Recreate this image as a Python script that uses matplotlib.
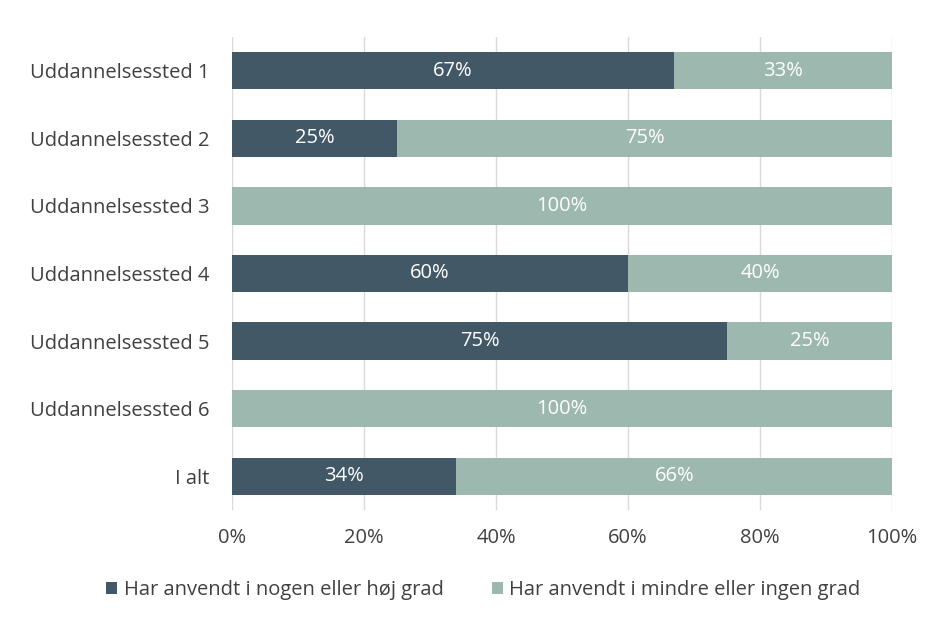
import matplotlib
matplotlib.use("Agg")
import matplotlib.pyplot as plt

categories = ["Uddannelsessted 1", "Uddannelsessted 2", "Uddannelsessted 3",
              "Uddannelsessted 4", "Uddannelsessted 5", "Uddannelsessted 6", "I alt"]
high_use = [67, 25, 0, 60, 75, 0, 34]
low_use = [33, 75, 100, 40, 25, 100, 66]
series_names = ["Har anvendt i nogen eller høj grad", "Har anvendt i mindre eller ingen grad"]
x_ticks = [0, 20, 40, 60, 80, 100]

dark = "#435866"
light = "#9db8ae"
text_col = "#404040"

plt.rcParams["font.family"] = ["Open Sans", "DejaVu Sans"]
fs = 14.5

fig = plt.figure(figsize=(9.42, 6.24), dpi=100)
ax = fig.add_axes([0.2463, 0.1827, 0.7006, 0.758])

y = list(range(len(categories)))
h = 0.55
b1 = ax.barh(y, high_use, height=h, color=dark, label=series_names[0], zorder=3)
b2 = ax.barh(y, low_use, left=high_use, height=h, color=light, label=series_names[1], zorder=3)

for bars, vals, lefts in ((b1, high_use, [0]*len(y)), (b2, low_use, high_use)):
    for yi, v, l in zip(y, vals, lefts):
        if v > 0:
            ax.text(l + v / 2, yi, f"{v}%", ha="center", va="center",
                    color="white", fontsize=fs, zorder=4)

ax.set_ylim(len(categories) - 0.5, -0.5)
ax.set_xlim(0, 100)
ax.set_yticks(y)
ax.set_yticklabels(categories, fontsize=fs, color=text_col)
ax.set_xticks(x_ticks)
ax.set_xticklabels([f"{t}%" for t in x_ticks], fontsize=fs, color=text_col)
ax.tick_params(axis="both", length=0)
ax.tick_params(axis="x", pad=13)
ax.tick_params(axis="y", pad=16)
ax.grid(axis="x", color="#d9d9d9", linewidth=1, zorder=0)
for s in ax.spines.values():
    s.set_visible(False)

fig.legend(handles=[b1, b2], labels=series_names, loc="center",
           bbox_to_anchor=(0.513, 0.054), ncol=2, frameon=False,
           fontsize=fs, handlelength=0.55, handleheight=0.55,
           handletextpad=0.3, columnspacing=2.4, labelcolor=text_col)

fig.savefig("out.png", dpi=100)
